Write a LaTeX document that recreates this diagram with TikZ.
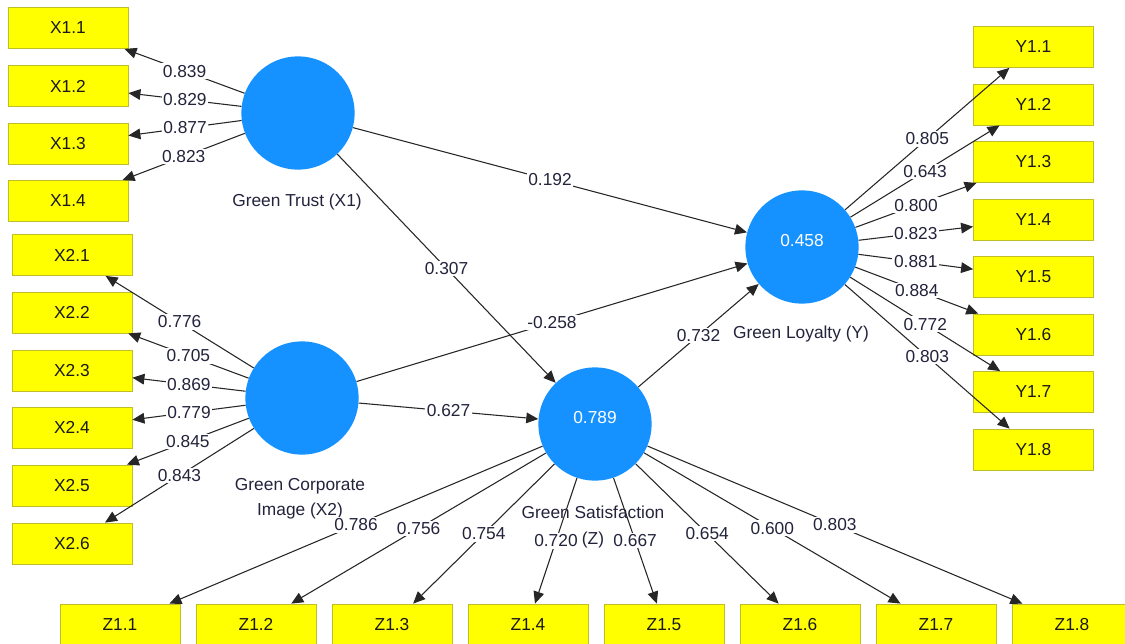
\documentclass[tikz,border=0pt]{standalone}
\usepackage{fontspec}
\setmainfont{Liberation Sans}
\usepackage{tikz}
\usetikzlibrary{arrows.meta, positioning, shapes}
\definecolor{azulPLS}{RGB}{21,146,255}
\definecolor{amarilloInd}{RGB}{255,255,0}
\definecolor{bordeInd}{RGB}{190,190,40}
\definecolor{textoCoef}{RGB}{35,35,60}

\begin{document}
\begin{tikzpicture}[x=0.75pt, y=-0.75pt,
  constructo/.style={circle, fill=azulPLS, draw=none, minimum size=85pt, inner sep=0pt},
  valor/.style={text=white, font=\fontsize{13}{15}\selectfont},
  ind/.style={rectangle, fill=amarilloInd, draw=bordeInd, line width=0.6pt,
    minimum width=90pt, minimum height=30.75pt, text=black!90,
    font=\fontsize{13}{15}\selectfont},
  coef/.style={fill=white, inner sep=1.2pt, text=textoCoef, font=\fontsize{13}{15}\selectfont},
  nombre/.style={text=textoCoef, align=center, font=\fontsize{13}{19}\selectfont},
  ruta/.style={draw=black!85, line width=0.8pt, -{Triangle[length=9pt,width=8pt]}}]
  \useasboundingbox (0,0) rectangle (1125,643);

  % Constructos
  \node[constructo] (X1) at (298,113) {};
  \node[constructo] (X2) at (302,398) {};
  \node[constructo, label={[valor, yshift=4.5pt]center:0.458}] (Y) at (802,247) {};
  \node[constructo, label={[valor, yshift=4.5pt]center:0.789}] (Z) at (595,424) {};
  \node[nombre] (X1nom) at (297,202) {Green Trust (X1)};
  \node[nombre] (X2nom) at (300,499) {Green Corporate\\Image (X2)};
  \node[nombre] (Ynom) at (801,334) {Green Loyalty (Y)};
  \node[nombre] (Znom) at (593,527) {Green Satisfaction\\(Z)};

  % Indicadores
  \foreach \i/\y in {1/28, 2/86, 3/143.5, 4/201}
    \node[ind] (x1-\i) at (68,\y) {X1.\i};
  \foreach \i/\y in {1/255, 2/312.5, 3/370.5, 4/427.5, 5/485.5, 6/543.5}
    \node[ind] (x2-\i) at (72,\y) {X2.\i};
  \foreach \i in {1,...,8}
    \node[ind] (y-\i) at (1033.5,{47+57.5*(\i-1)}) {Y1.\i};
  \foreach \i in {1,...,8}
    \node[ind] (z-\i) at ({120+136*(\i-1)},624.5) {Z1.\i};

  % Cargas
  \foreach \i/\v in {1/0.839, 2/0.829, 3/0.877, 4/0.823}
    \draw[ruta] (X1) -- node[coef] {\v} (x1-\i);
  \foreach \i/\v in {1/0.776, 2/0.705, 3/0.869, 4/0.779, 5/0.845, 6/0.843}
    \draw[ruta] (X2) -- node[coef] {\v} (x2-\i);
  \foreach \i/\v in {1/0.805, 2/0.643, 3/0.800, 4/0.823, 5/0.881, 6/0.884, 7/0.772, 8/0.803}
    \draw[ruta] (Y) -- node[coef] {\v} (y-\i);
  \foreach \i/\v in {1/0.786, 2/0.756, 3/0.754, 4/0.720, 5/0.667, 6/0.654, 7/0.600, 8/0.803}
    \draw[ruta] (Z) -- node[coef] {\v} (z-\i);

  % Rutas estructurales
  \draw[ruta] (X1) -- node[coef] {0.192} (Y);
  \draw[ruta] (X1) -- node[coef] {0.307} (Z);
  \draw[ruta] (X2) -- node[coef] {-0.258} (Y);
  \draw[ruta] (X2) -- node[coef] {0.627} (Z);
  \draw[ruta] (Z) -- node[coef] {0.732} (Y);
\end{tikzpicture}
\end{document}
